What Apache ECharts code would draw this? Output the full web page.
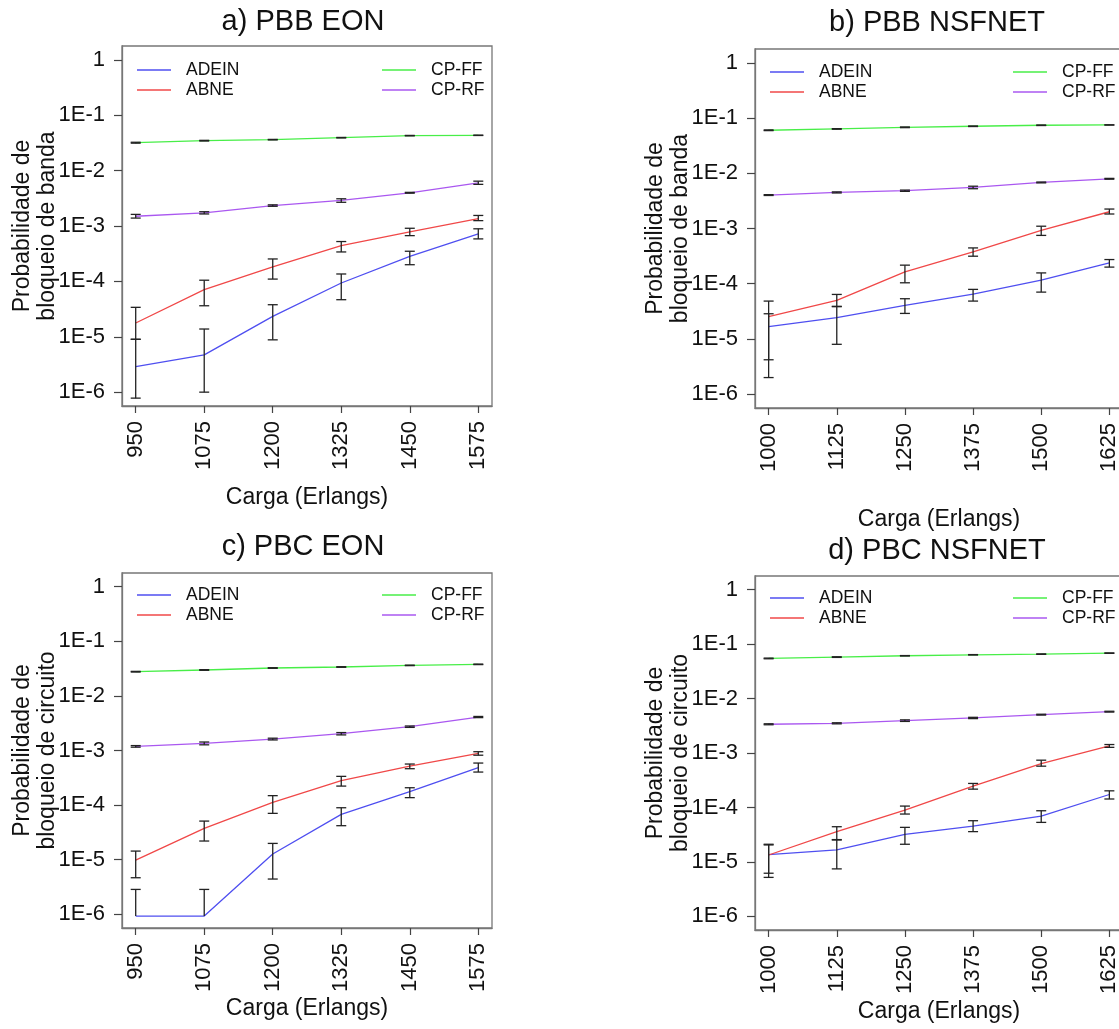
<!DOCTYPE html>
<html>
<head>
<meta charset="utf-8">
<script src="https://cdn.jsdelivr.net/npm/echarts@6/dist/echarts.min.js"></script>
<style>
html,body{margin:0;padding:0;background:#fff;}
#c{width:1119px;height:1029px;}
</style>
</head>
<body>
<div id="c"></div>
<script>
// ---------- categories / ticks ----------
const X_EON = [950, 1075, 1200, 1325, 1450, 1575];
const X_NSF = [1000, 1125, 1250, 1375, 1500, 1625];
const Y_TICKS = [1e-6, 1e-5, 1e-4, 1e-3, 1e-2, 1e-1, 1];
const Y_TICK_LABELS = ['1E-6', '1E-5', '1E-4', '1E-3', '1E-2', '1E-1', '1'];
const SERIES_NAMES = ['ADEIN', 'ABNE', 'CP-FF', 'CP-RF'];
const TITLES = ['a) PBB EON', 'b) PBB NSFNET', 'c) PBC EON', 'd) PBC NSFNET'];
const Y_NAMES = ['Probabilidade de\nbloqueio de banda', 'Probabilidade de\nbloqueio de banda',
                 'Probabilidade de\nbloqueio de circuito', 'Probabilidade de\nbloqueio de circuito'];
const X_NAME = 'Carga (Erlangs)';

// ---------- panel a) PBB EON ----------
const A_ADEIN    = [2.9e-6, 4.7e-6, 2.33e-5, 9.35e-5, 2.84e-4, 7.2e-4];
const A_ADEIN_LO = [7.8e-7, 1.0e-6, 8.8e-6, 4.67e-5, 2.0e-4, 5.85e-4];
const A_ADEIN_HI = [9.0e-6, 1.38e-5, 3.79e-5, 1.36e-4, 3.5e-4, 8.9e-4];
const A_ABNE     = [1.77e-5, 7.08e-5, 1.82e-4, 4.43e-4, 7.83e-4, 1.36e-3];
const A_ABNE_LO  = [9.0e-6, 3.63e-5, 1.10e-4, 3.40e-4, 6.7e-4, 1.25e-3];
const A_ABNE_HI  = [3.4e-5, 1.05e-4, 2.54e-4, 5.24e-4, 9.1e-4, 1.55e-3];
const A_CPFF     = [0.0319, 0.0347, 0.0362, 0.0393, 0.0428, 0.0434];
const A_CPFF_LO  = [0.0313, 0.0342, 0.0358, 0.0389, 0.0424, 0.0431];
const A_CPFF_HI  = [0.0325, 0.0352, 0.0366, 0.0397, 0.0432, 0.0437];
const A_CPRF     = [0.00150, 0.00173, 0.00234, 0.00289, 0.00398, 0.00603];
const A_CPRF_LO  = [0.00139, 0.00165, 0.00227, 0.00268, 0.00391, 0.00565];
const A_CPRF_HI  = [0.00162, 0.00181, 0.00241, 0.00310, 0.00405, 0.00645];

// ---------- panel b) PBB NSFNET ----------
const B_ADEIN    = [1.67e-5, 2.43e-5, 4.05e-5, 6.49e-5, 1.16e-4, 2.39e-4];
const B_ADEIN_LO = [4.2e-6, 8.0e-6, 2.9e-5, 4.85e-5, 7.05e-5, 2.0e-4];
const B_ADEIN_HI = [2.86e-5, 3.9e-5, 5.35e-5, 7.9e-5, 1.57e-4, 2.74e-4];
const B_ABNE     = [2.53e-5, 4.99e-5, 1.64e-4, 3.77e-4, 9.28e-4, 2.01e-3];
const B_ABNE_LO  = [2.0e-6, 3.84e-5, 1.04e-4, 3.15e-4, 7.5e-4, 1.83e-3];
const B_ABNE_HI  = [4.85e-5, 6.4e-5, 2.17e-4, 4.45e-4, 1.1e-3, 2.25e-3];
const B_CPFF     = [0.0601, 0.0635, 0.0680, 0.0710, 0.0740, 0.0750];
const B_CPFF_LO  = [0.0592, 0.0628, 0.0670, 0.0702, 0.0732, 0.0745];
const B_CPFF_HI  = [0.0610, 0.0642, 0.0690, 0.0718, 0.0748, 0.0755];
const B_CPRF     = [0.00403, 0.00450, 0.00483, 0.00554, 0.00682, 0.00794];
const B_CPRF_LO  = [0.00396, 0.00440, 0.00470, 0.00525, 0.00670, 0.00780];
const B_CPRF_HI  = [0.00410, 0.00460, 0.00496, 0.00583, 0.00694, 0.00808];

// ---------- panel c) PBC EON ----------
const C_ADEIN    = [9.3e-7, 9.3e-7, 1.27e-5, 6.76e-5, 1.76e-4, 4.84e-4];
const C_ADEIN_LO = [null, null, 4.43e-6, 4.2e-5, 1.37e-4, 4.03e-4];
const C_ADEIN_HI = [2.86e-6, 2.86e-6, 1.99e-5, 8.95e-5, 2.08e-4, 5.89e-4];
const C_ABNE     = [9.86e-6, 3.75e-5, 1.12e-4, 2.8e-4, 5.19e-4, 8.86e-4];
const C_ABNE_LO  = [4.68e-6, 2.2e-5, 7.06e-5, 2.23e-4, 4.64e-4, 8.2e-4];
const C_ABNE_HI  = [1.44e-5, 5.1e-5, 1.49e-4, 3.36e-4, 5.65e-4, 9.5e-4];
const C_CPFF     = [0.0277, 0.0298, 0.0324, 0.0338, 0.0362, 0.0378];
const C_CPFF_LO  = [0.0273, 0.0294, 0.0320, 0.0334, 0.0358, 0.0374];
const C_CPFF_HI  = [0.0281, 0.0302, 0.0328, 0.0342, 0.0366, 0.0382];
const C_CPRF     = [0.00119, 0.00135, 0.00162, 0.00203, 0.00273, 0.00410];
const C_CPRF_LO  = [0.00115, 0.00127, 0.00156, 0.00193, 0.00265, 0.00400];
const C_CPRF_HI  = [0.00123, 0.00143, 0.00168, 0.00213, 0.00281, 0.00420];

// ---------- panel d) PBC NSFNET ----------
const D_ADEIN    = [1.36e-5, 1.66e-5, 3.21e-5, 4.56e-5, 6.95e-5, 1.73e-4];
const D_ADEIN_LO = [6.2e-6, 7.45e-6, 2.11e-5, 3.6e-5, 5.32e-5, 1.43e-4];
const D_ADEIN_HI = [2.05e-5, 2.57e-5, 4.31e-5, 5.71e-5, 8.7e-5, 2.02e-4];
const D_ABNE     = [1.34e-5, 3.6e-5, 8.95e-5, 2.46e-4, 6.41e-4, 1.35e-3];
const D_ABNE_LO  = [5.2e-6, 2.53e-5, 7.57e-5, 2.17e-4, 5.73e-4, 1.27e-3];
const D_ABNE_HI  = [2.11e-5, 4.43e-5, 1.06e-4, 2.76e-4, 7.38e-4, 1.43e-3];
const D_CPFF     = [0.0545, 0.0577, 0.0610, 0.0636, 0.0654, 0.0682];
const D_CPFF_LO  = [0.0537, 0.0569, 0.0605, 0.0631, 0.0648, 0.0676];
const D_CPFF_HI  = [0.0553, 0.0585, 0.0615, 0.0641, 0.0660, 0.0688];
const D_CPRF     = [0.00337, 0.00351, 0.00393, 0.00440, 0.00506, 0.00574];
const D_CPRF_LO  = [0.00330, 0.00343, 0.00380, 0.00428, 0.00497, 0.00564];
const D_CPRF_HI  = [0.00344, 0.00359, 0.00406, 0.00452, 0.00515, 0.00584];

// ---------- assembly ----------
const FONT = '"Liberation Sans", Arial, sans-serif';
const TXT = '#111';
const COLORS = {'ADEIN': '#4f4ff0', 'ABNE': '#f04848', 'CP-FF': '#48ee48', 'CP-RF': '#aa58f0'};

const panels = [
  {x: X_EON, xmin: 925, xmax: 1600,
   s: [[A_ADEIN, A_ADEIN_LO, A_ADEIN_HI], [A_ABNE, A_ABNE_LO, A_ABNE_HI], [A_CPFF, A_CPFF_LO, A_CPFF_HI], [A_CPRF, A_CPRF_LO, A_CPRF_HI]],
   grid: {left: 122, top: 46, width: 370, height: 360}, title: [303, 7], xGap: 80, yGap: 62,
   legL: [137, 61], legR: [382, 61]},
  {x: X_NSF, xmin: 975, xmax: 1650,
   s: [[B_ADEIN, B_ADEIN_LO, B_ADEIN_HI], [B_ABNE, B_ABNE_LO, B_ABNE_HI], [B_CPFF, B_CPFF_LO, B_CPFF_HI], [B_CPRF, B_CPRF_LO, B_CPRF_HI]],
   grid: {left: 755, top: 49, width: 368, height: 359}, title: [937, 8], xGap: 100, yGap: 62,
   legL: [770, 63], legR: [1013, 63]},
  {x: X_EON, xmin: 925, xmax: 1600,
   s: [[C_ADEIN, C_ADEIN_LO, C_ADEIN_HI], [C_ABNE, C_ABNE_LO, C_ABNE_HI], [C_CPFF, C_CPFF_LO, C_CPFF_HI], [C_CPRF, C_CPRF_LO, C_CPRF_HI]],
   grid: {left: 122, top: 573, width: 370, height: 355}, title: [303, 532], xGap: 69, yGap: 62,
   legL: [137, 586], legR: [382, 586]},
  {x: X_NSF, xmin: 975, xmax: 1650,
   s: [[D_ADEIN, D_ADEIN_LO, D_ADEIN_HI], [D_ABNE, D_ABNE_LO, D_ABNE_HI], [D_CPFF, D_CPFF_LO, D_CPFF_HI], [D_CPRF, D_CPRF_LO, D_CPRF_HI]],
   grid: {left: 755, top: 576, width: 368, height: 354}, title: [937, 536], xGap: 70, yGap: 62,
   legL: [770, 589], legR: [1013, 589]}
];

function renderErr(params, api) {
  const x = api.value(0), lo = api.value(1), hi = api.value(2), hasLo = api.value(4);
  const top = api.coord([x, hi]);
  const bot = api.coord([x, lo]);
  const w = 5;
  const st = {stroke: '#222', lineWidth: 1.3};
  const ch = [
    {type: 'line', shape: {x1: top[0], y1: top[1], x2: bot[0], y2: bot[1]}, style: st},
    {type: 'line', shape: {x1: top[0] - w, y1: top[1], x2: top[0] + w, y2: top[1]}, style: st}
  ];
  if (hasLo) ch.push({type: 'line', shape: {x1: bot[0] - w, y1: bot[1], x2: bot[0] + w, y2: bot[1]}, style: st});
  return {type: 'group', children: ch};
}

const option = {
  backgroundColor: '#fff',
  animation: false,
  textStyle: {fontFamily: FONT},
  title: [], grid: [], xAxis: [], yAxis: [], legend: [], series: []
};

panels.forEach((p, i) => {
  option.title.push({text: TITLES[i], left: p.title[0], top: p.title[1], textAlign: 'center', padding: 0,
    textStyle: {fontSize: 29, fontWeight: 'normal', color: TXT, fontFamily: FONT}});
  option.grid.push(Object.assign({show: true, borderColor: '#777', borderWidth: 1.3, backgroundColor: 'transparent',
    containLabel: false, outerBoundsMode: 'none'}, p.grid));
  option.xAxis.push({
    gridIndex: i, type: 'value', min: p.xmin, max: p.xmax,
    axisLine: {show: true, lineStyle: {color: '#777', width: 1.3}},
    axisTick: {show: true, length: 7, customValues: p.x, lineStyle: {color: '#444', width: 1.2}},
    axisLabel: {customValues: p.x, rotate: 90, margin: 15, fontSize: 22, color: TXT, fontFamily: FONT,
      formatter: v => String(Math.round(v))},
    splitLine: {show: false},
    name: X_NAME, nameLocation: 'middle', nameGap: p.xGap, nameMoveOverlap: false,
    nameTextStyle: {fontSize: 23, color: TXT, fontFamily: FONT}
  });
  option.yAxis.push({
    gridIndex: i, type: 'log', logBase: 10, min: 5.623e-7, max: 1.778,
    axisLine: {show: true, lineStyle: {color: '#777', width: 1.3}},
    axisTick: {show: true, length: 8, customValues: Y_TICKS, lineStyle: {color: '#444', width: 1.2}},
    axisLabel: {customValues: Y_TICKS, margin: 17, fontSize: 22, color: TXT, fontFamily: FONT,
      formatter: v => {
        let k = 0, best = Infinity;
        Y_TICKS.forEach((t, j) => { const d = Math.abs(Math.log10(v) - Math.log10(t)); if (d < best) { best = d; k = j; } });
        return Y_TICK_LABELS[k];
      }},
    splitLine: {show: false},
    name: Y_NAMES[i], nameLocation: 'middle', nameGap: p.yGap, nameMoveOverlap: false,
    nameTextStyle: {fontSize: 23, lineHeight: 25, color: TXT, fontFamily: FONT}
  });
  const legBase = {orient: 'vertical', padding: 0, itemGap: 2, itemWidth: 34, itemHeight: 1.5, selectedMode: false,
    textStyle: {fontSize: 17.5, color: TXT, fontFamily: FONT, padding: [0, 0, 0, 10]}};
  option.legend.push(Object.assign({}, legBase, {left: p.legL[0], top: p.legL[1],
    data: [{name: 'ADEIN', icon: 'rect'}, {name: 'ABNE', icon: 'rect'}]}));
  option.legend.push(Object.assign({}, legBase, {left: p.legR[0], top: p.legR[1],
    data: [{name: 'CP-FF', icon: 'rect'}, {name: 'CP-RF', icon: 'rect'}]}));

  SERIES_NAMES.forEach((name, k) => {
    const [vals, lo, hi] = p.s[k];
    option.series.push({
      name: name, type: 'line', xAxisIndex: i, yAxisIndex: i,
      data: p.x.map((xv, j) => [xv, vals[j]]),
      symbol: 'none', color: COLORS[name], itemStyle: {color: COLORS[name]},
      lineStyle: {width: 1.3, color: COLORS[name]}, z: 2
    });
  });
  SERIES_NAMES.forEach((name, k) => {
    const [vals, lo, hi] = p.s[k];
    option.series.push({
      type: 'custom', xAxisIndex: i, yAxisIndex: i, renderItem: renderErr, z: 3,
      encode: {x: 0, y: [1, 2]},
      data: p.x.map((xv, j) => [xv, lo[j] == null ? vals[j] : lo[j], hi[j], vals[j], lo[j] == null ? 0 : 1]),
      silent: true
    });
  });
});

const chart = echarts.init(document.getElementById('c'), null, {renderer: 'canvas'});
chart.setOption(option);
</script>
</body>
</html>
